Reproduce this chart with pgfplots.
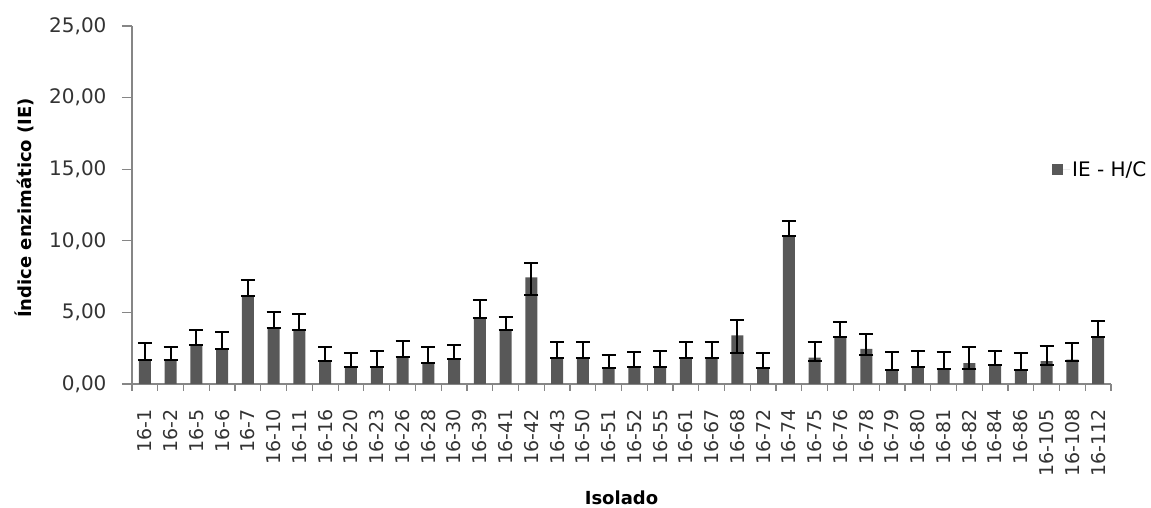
\documentclass[border=0pt]{standalone}
\usepackage{fontspec}
\setmainfont{DejaVu Sans}
\usepackage{pgfplots}
\usepackage{pgfplotstable}
\pgfplotsset{compat=1.18}

\definecolor{barcol}{RGB}{88,88,88}
\definecolor{axiscol}{RGB}{134,134,134}

% enzymatic index per isolate: mean, upper and lower error
\pgfplotstableread{
idx y ep em
0 1.70 1.15 0
1 1.65 0.95 0
2 2.70 1.10 0
3 2.45 1.20 0
4 6.15 1.10 0
5 3.90 1.10 0
6 3.80 1.10 0
7 1.60 0.95 0
8 1.20 0.95 0
9 1.20 1.10 0
10 1.90 1.10 0
11 1.50 1.05 0
12 1.75 0.95 0
13 4.60 1.30 0
14 3.75 0.95 0
15 7.45 1.00 1.24
16 1.85 1.10 0
17 1.85 1.10 0
18 1.10 0.90 0
19 1.20 1.05 0
20 1.20 1.10 0
21 1.85 1.10 0
22 1.85 1.10 0
23 3.40 1.05 1.22
24 1.10 1.05 0
25 10.35 1.05 0
26 1.85 1.10 0.25
27 3.25 1.05 0
28 2.45 1.05 0.40
29 1.00 1.20 0
30 1.20 1.10 0
31 1.05 1.15 0
32 1.45 1.10 0.38
33 1.35 0.95 0
34 1.00 1.15 0
35 1.60 1.05 0.30
36 1.70 1.15 0.08
37 3.25 1.15 0
}\ietable

\begin{document}
\begin{tikzpicture}
\path[use as bounding box] (0,0) rectangle (1151pt,508pt);
\begin{axis}[
  at={(132pt,124pt)}, anchor=south west,
  scale only axis, width=979pt, height=358pt,
  xmin=-0.5, xmax=37.5, ymin=0, ymax=25,
  axis x line*=bottom, axis y line*=left,
  axis line style={-, draw=axiscol, line width=1.2pt},
  ytick={0,5,...,25},
  xtick={0,...,37},
  xticklabels={16-1,16-2,16-5,16-6,16-7,16-10,16-11,16-16,16-20,16-23,16-26,16-28,16-30,16-39,16-41,16-42,16-43,16-50,16-51,16-52,16-55,16-61,16-67,16-68,16-72,16-74,16-75,16-76,16-78,16-79,16-80,16-81,16-82,16-84,16-86,16-105,16-108,16-112},
  minor xtick={-0.5,0.5,...,37.5},
  tick align=outside,
  major tick length=10pt, minor tick length=7pt,
  major x tick style={draw=none},
  minor x tick style={draw=axiscol, line width=1.2pt},
  y tick style={draw=axiscol, line width=1.2pt},
  /pgf/number format/assume math mode=true,
  yticklabel style={font=\fontsize{20}{24}\selectfont, text=black!80, xshift=-12pt,
    /pgf/number format/.cd, fixed, fixed zerofill, precision=2, use comma},
  xticklabel style={font=\fontsize{19}{22}\selectfont, text=black!80,
    rotate=90, anchor=east, xshift=-12pt},
  ylabel={Índice enzimático (IE)},
  xlabel={Isolado},
  ylabel style={font=\bfseries\fontsize{18}{22}\selectfont, at={(axis description cs:-0.11,0.492)}, anchor=center, rotate=0},
  xlabel style={font=\bfseries\fontsize{18}{22}\selectfont, at={(axis description cs:0.5,-0.318)}, anchor=center},
  legend style={at={(axis description cs:0.9397,0.598)}, anchor=west, draw=none, fill=none,
    inner sep=0pt, font=\fontsize{20}{24}\selectfont},
  clip=false,
]
\addplot[ybar, bar width=12pt, fill=barcol, draw=none,
  legend image code/.code={\fill[barcol] (0pt,-5.5pt) rectangle (11pt,5.5pt); \path (0pt,0pt) -- (18pt,0pt);},
  error bars/.cd, y dir=both, y explicit,
  error mark=|,
  error bar style={draw=black, line width=2pt},
  error mark options={draw=black, line width=2pt, mark size=7pt}]
  table[x=idx, y=y, y error plus=ep, y error minus=em] {\ietable};
\addlegendentry{IE - H/C}
\end{axis}
\end{tikzpicture}
\end{document}
